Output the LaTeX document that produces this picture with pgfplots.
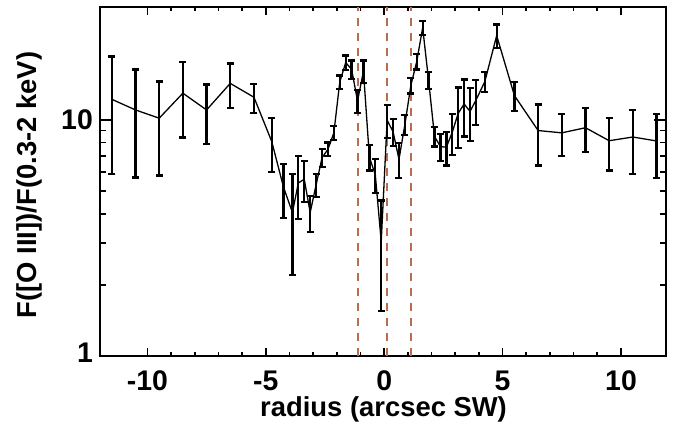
\documentclass[border=0pt]{standalone}
\usepackage{fontspec}
\setmainfont{Liberation Sans}
\usepackage{pgfplots}
\usepackage{pgfplotstable}
\pgfplotsset{compat=1.18}
\definecolor{dashbrown}{RGB}{186,108,76}
\pgfplotstableread{
x y e
-11.5 12.2 6.3
-10.5 11.0 5.3
-9.5 10.15 4.35
-8.5 12.95 4.55
-7.5 11.0 3.1
-6.5 14.25 3.05
-5.5 12.45 1.75
-4.75 8.1 2.1
-4.25 5.18 1.33
-3.875 4.05 1.85
-3.625 5.4 1.6
-3.375 5.6 1.1
-3.125 4.05 0.71
-2.875 5.3 0.6
-2.625 6.9 0.6
-2.375 7.5 0.5
-2.125 8.8 0.6
-1.875 14.45 0.95
-1.625 17.45 1.25
-1.375 16.35 1.45
-1.125 12.0 1.35
-0.875 16.05 1.75
-0.625 6.95 0.85
-0.375 5.85 0.95
-0.125 3.05 1.5
0.125 9.95 1.6
0.375 8.9 1.15
0.625 6.8 1.15
0.875 9.55 0.95
1.125 13.95 1.05
1.375 17.65 1.35
1.625 24.5 1.6
1.875 14.7 1.2
2.125 8.5 0.8
2.375 7.7 1.0
2.625 7.65 1.25
2.875 8.85 1.75
3.125 10.65 3.05
3.375 11.65 3.15
3.625 10.85 2.75
3.875 12.1 2.6
4.25 14.5 1.4
4.75 22.7 2.6
5.5 12.65 1.75
6.5 9.0 2.6
7.5 8.8 1.8
8.5 9.25 1.95
9.5 8.15 2.05
10.5 8.45 2.55
11.5 8.13 2.47
}\ratio
\begin{document}
\begin{tikzpicture}
\begin{axis}[
  at={(0,0)}, anchor=south west,
  scale only axis, width=566bp, height=349bp,
  ymode=log, xmin=-12, xmax=11.9, ymin=1, ymax=30,
  xtick={-10,-5,0,5,10}, xticklabels={-10,-5,0,5,10},
  minor x tick num=4,
  ytick={1,10}, yticklabels={\raisebox{7bp}{1},10},
  tick align=inside, xtick pos=both, ytick pos=both,
  xtick style={line width=1.7bp, black, /pgfplots/major tick length=8bp, /pgfplots/minor tick length=4bp},
  ytick style={line width=1.7bp, black, /pgfplots/major tick length=12bp, /pgfplots/minor tick length=6bp},
  axis line style={line width=2.3bp, black},
  tick label style={font=\fontsize{28.5}{34}\selectfont\bfseries},
  xticklabel style={anchor=base, inner sep=0pt, yshift=-34.5bp},
  yticklabel style={anchor=east, inner sep=0pt, xshift=-7bp},
  label style={font=\fontsize{27.5}{33}\selectfont\bfseries},
  xlabel={radius (arcsec SW)},
  xlabel style={at={(axis description cs:0.501,-0.1725)}, anchor=base, inner sep=0pt},
  ylabel={F([O III])/F(0.3-2 keV)},
  ylabel style={at={(axis description cs:-0.1254,0.49)}, anchor=center, inner sep=0pt, rotate=0},
  clip=true,
]
\addplot[dashbrown, line width=1.6bp, dash pattern=on 8bp off 7bp] coordinates {(-1.11,1) (-1.11,30)};
\addplot[dashbrown, line width=1.6bp, dash pattern=on 8bp off 7bp] coordinates {(0.11,1) (0.11,30)};
\addplot[dashbrown, line width=1.6bp, dash pattern=on 8bp off 7bp] coordinates {(1.14,1) (1.14,30)};
\addplot[black, line width=1.3bp, mark=none,
  error bars/.cd, y dir=both, y explicit,
  error bar style={line width=2.3bp, black},
  error mark options={line width=2.3bp, black, mark size=3.5bp, rotate=90}]
  table[x=x, y=y, y error=e] {\ratio};
\end{axis}
\pgfresetboundingbox
\path (-100bp,-76bp) rectangle (578bp,356bp);
\end{tikzpicture}
\end{document}
